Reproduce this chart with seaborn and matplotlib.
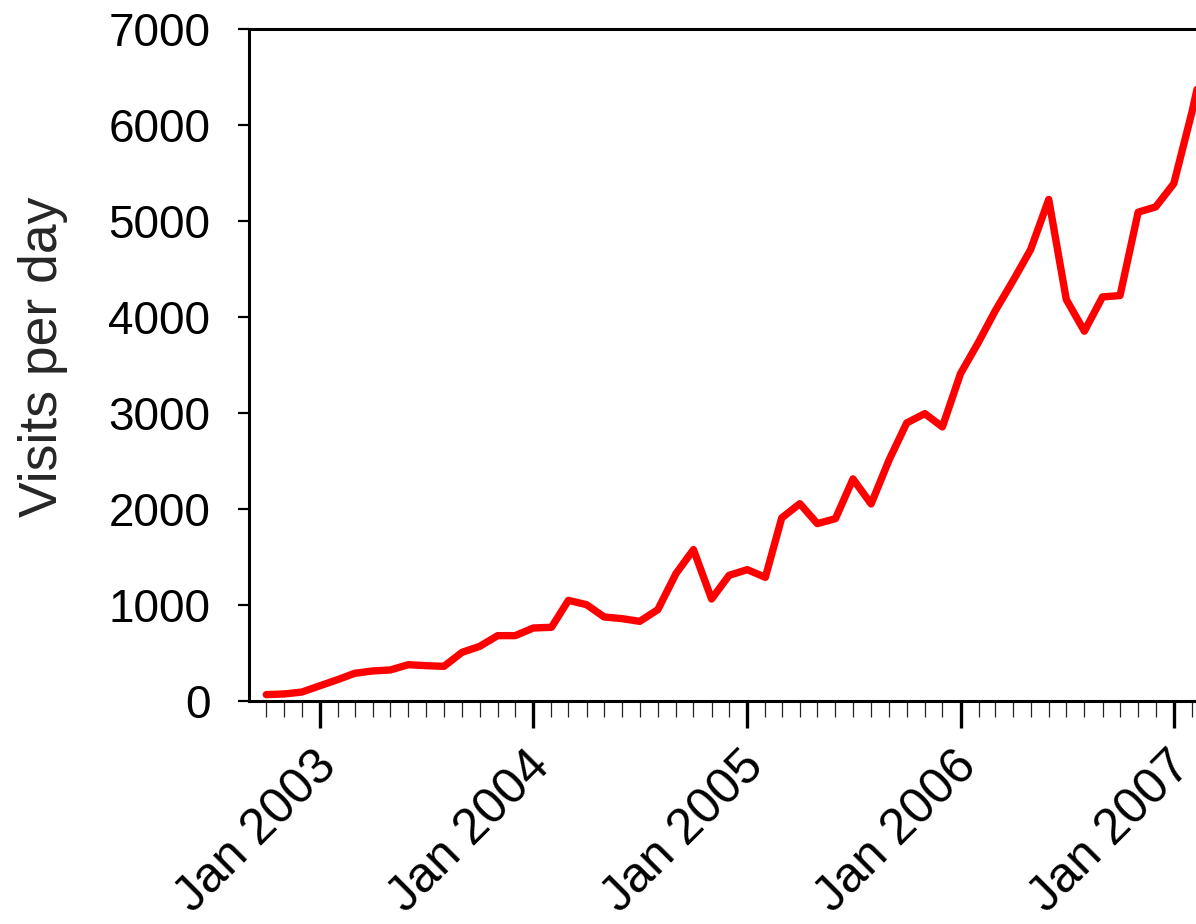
import pandas as pd
import matplotlib
matplotlib.use("Agg")
import matplotlib.pyplot as plt
import matplotlib.dates as mdates
import matplotlib.transforms as mtransforms
import seaborn as sns

# monthly site traffic, Oct 2002 - Mar 2007
months = pd.date_range("2002-10-01", "2007-03-01", freq="MS")
visits = [
    63, 70, 90,                                                   # 2002
    156, 221, 285, 310, 320, 375, 365, 358, 504, 566, 678, 678,  # 2003
    758, 765, 1046, 1001, 873, 855, 827, 949, 1324, 1575, 1060, 1307,  # 2004
    1366, 1286, 1905, 2054, 1846, 1898, 2312, 2051, 2513, 2896, 2993, 2854,  # 2005
    3410, 3740, 4060, 4380, 4703, 5226, 4183, 3852, 4210, 4224, 5093, 5148,  # 2006
    5391, 6135, 6900,                                             # 2007
]
y_ticks = [0, 1000, 2000, 3000, 4000, 5000, 6000, 7000]

sns.set_style("ticks")
plt.rcParams["font.family"] = ["Liberation Sans", "DejaVu Sans"]

fig = plt.figure(figsize=(11.96, 9.24), dpi=100)
ax = fig.add_axes([0.2085, 0.2417, 1 - 0.2085, 0.9683 - 0.2417])

df = pd.DataFrame({"month": months, "visits": visits})
sns.lineplot(data=df, x="month", y="visits", color="#ff0000", linewidth=5.3, ax=ax)
line = ax.lines[0]
line.set_solid_capstyle("round")
line.set_solid_joinstyle("round")

ax.set_xlim(pd.Timestamp("2002-09-02"), pd.Timestamp("2007-02-08"))
ax.set_ylim(0, 7000)
ax.set_yticks(y_ticks)

ax.xaxis.set_major_locator(mdates.YearLocator(month=1))
ax.xaxis.set_major_formatter(mdates.DateFormatter("%b %Y"))
ax.xaxis.set_minor_locator(mdates.MonthLocator())

ax.tick_params(axis="y", direction="out", length=8, width=1.6, pad=20,
               labelsize=33, colors="black")
ax.tick_params(axis="x", which="major", direction="out", length=19.5, width=2.4,
               pad=11, labelsize=36, colors="black")
ax.tick_params(axis="x", which="minor", direction="out", length=11.5, width=0.9,
               colors="#222222")

# rotated date labels, nudged a little left of the tick
shift = mtransforms.ScaledTranslation(-0.07, 0, fig.dpi_scale_trans)
for lab in ax.get_xticklabels():
    lab.set_rotation(45)
    lab.set_ha("right")
    lab.set_va("top")
    lab.set_rotation_mode("anchor")
    lab.set_transform(lab.get_transform() + shift)

for side in ["left", "top", "bottom"]:
    ax.spines[side].set_linewidth(2.2)
    ax.spines[side].set_color("black")
ax.spines["right"].set_visible(False)

ax.set_xlabel("")
ax.set_ylabel("Visits per day", fontsize=38.5)
ax.yaxis.set_label_coords(-0.1915, 0.512)

fig.savefig("out.png", dpi=100)
